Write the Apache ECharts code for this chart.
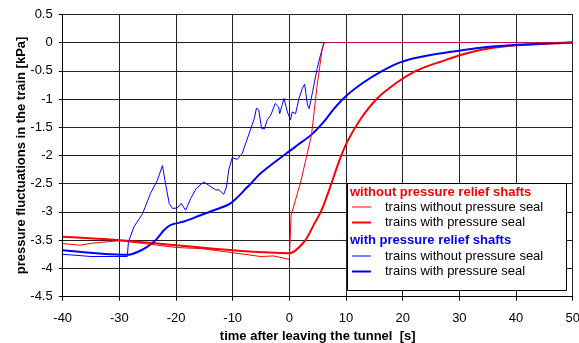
<!DOCTYPE html>
<html><head><meta charset="utf-8">
<script src="https://cdn.jsdelivr.net/npm/echarts@6/dist/echarts.min.js"></script>
<style>html,body{margin:0;padding:0;background:#fff}#c{width:579px;height:343px}</style>
</head><body><div id="c"></div>
<script>
// x ticks / y ticks
var xMin = -40, xMax = 50, xStep = 10;
var yMin = -4.5, yMax = 0.5, yStep = 0.5;

// without pressure relief shafts, trains without pressure seal (thin red)
var redThinT = [-40,-37,-34.5,-30,-25.7,-20,-15.6,-10.9,-5.1,-2.8,0,0.3,2.0,3.9,4.9,5.8,6.2,50];
var redThinP = [-3.56,-3.59,-3.55,-3.51,-3.56,-3.63,-3.65,-3.71,-3.79,-3.78,-3.84,-3.06,-2.47,-1.64,-0.76,-0.11,0,0];

// without pressure relief shafts, trains with pressure seal (thick red)
var redThickT = [-40,-30,0,2.6,4.3,5.8,7.3,8.75,10.2,12.6,15.5,19.1,22,24.9,26.7,30.2,34.9,40.2,45.5,50];
var redThickP = [-3.44,-3.50,-3.73,-3.53,-3.23,-2.94,-2.53,-2.11,-1.76,-1.35,-0.99,-0.70,-0.52,-0.40,-0.34,-0.22,-0.11,-0.05,-0.02,0];

// with pressure relief shafts, trains without pressure seal (thin blue)
var blueThinT = [-40,-35,-31,-28.6,-28.4,-27.4,-25.9,-24.5,-23.3,-22.4,-21.8,-21.2,-20.6,-19.8,-19.1,-18.3,-17.4,-16.4,-15.1,-14.2,-13,-12.4,-11.6,-11.1,-10.7,-10.1,-9.2,-8.3,-7.1,-6.2,-5.8,-5.4,-4.9,-4.4,-3.9,-3.3,-2.5,-1.9,-1.7,-0.95,-0.35,0.2,0.5,1.1,1.7,2.3,2.7,3.2,3.5,4.1,4.9,5.5,6.1,50];
var blueThinP = [-3.75,-3.79,-3.79,-3.79,-3.53,-3.26,-3.03,-2.67,-2.44,-2.18,-2.53,-2.85,-2.94,-2.93,-2.85,-2.97,-2.76,-2.58,-2.47,-2.53,-2.61,-2.61,-2.69,-2.56,-2.26,-2.04,-2.07,-1.96,-1.61,-1.35,-1.16,-1.20,-1.52,-1.53,-1.37,-1.29,-1.08,-1.14,-1.26,-0.99,-1.23,-1.37,-1.23,-1.26,-0.99,-0.81,-0.74,-1.11,-1.17,-0.87,-0.46,-0.22,0,0];

// with pressure relief shafts, trains with pressure seal (thick blue)
var blueThickT = [-40,-28.5,-26.8,-25.1,-23.6,-22.1,-20.9,-18.6,-15.7,-13.3,-10.4,-7.4,-5.1,-2.1,0.2,1.4,3.8,6.1,7.9,10.2,13.2,16.1,19.1,22,24.9,30.2,34.9,40.2,45,50];
var blueThickP = [-3.68,-3.76,-3.71,-3.62,-3.50,-3.32,-3.23,-3.17,-3.06,-2.97,-2.85,-2.56,-2.32,-2.08,-1.91,-1.82,-1.64,-1.40,-1.17,-0.93,-0.70,-0.52,-0.37,-0.28,-0.22,-0.14,-0.08,-0.04,-0.015,0];

var groupNames = ['without pressure relief shafts', 'with pressure relief shafts'];
var itemNames = ['trains without pressure seal', 'trains with pressure seal'];
var xTitle = 'time after leaving the tunnel  [s]';
var yTitle = 'pressure fluctuations in the train [kPa]';

function zip(t, p) { return t.map(function (v, i) { return [v, p[i]]; }); }

var FONT = '"Liberation Sans", Arial, sans-serif';
var RED = '#ff0000', BLUE = '#0000ff', MIX = '#c0104a';
var labelOf = { rThin: itemNames[0], rThick: itemNames[1], bThin: itemNames[0], bThick: itemNames[1] };
var THIN_ICON = 'path://M0,0h19v1h-19z';
var THICK_ICON = 'path://M0,0h19v2h-19z';

// thin red line turns into the overlap colour where it merges with the thin blue line at 0
var mergeT = redThinT[redThinT.length - 2];
var mergeFrac = (mergeT - xMin) / (xMax - xMin);
var redThinColor = new echarts.graphic.LinearGradient(0, 0, 1, 0, [
  { offset: 0, color: RED }, { offset: mergeFrac, color: RED },
  { offset: Math.min(1, mergeFrac + 0.001), color: MIX }, { offset: 1, color: MIX }
]);

function oneLegend(name, top, icon, color) {
  return {
    orient: 'vertical', left: 352, top: top, padding: 0,
    itemWidth: 19, itemHeight: 14, z: 20,
    data: [{ name: name, icon: icon, itemStyle: { color: color, borderWidth: 0 } }],
    formatter: function (n) { return labelOf[n]; },
    textStyle: { fontFamily: FONT, fontSize: 13, color: '#000', padding: [0, 0, 0, 9] },
    selectedMode: false
  };
}

var chart = echarts.init(document.getElementById('c'), null, { renderer: 'canvas' });
chart.setOption({
  animation: false,
  backgroundColor: '#fff',
  textStyle: { fontFamily: FONT },
  grid: { left: 62.7, right: 6.3, top: 14.3, bottom: 46.4, containLabel: false, outerBoundsMode: 'none' },
  xAxis: {
    type: 'value', min: xMin, max: xMax, interval: xStep,
    name: xTitle, nameLocation: 'middle', nameGap: 33, nameMoveOverlap: false,
    nameTextStyle: { fontFamily: FONT, fontSize: 13, fontWeight: 'bold', color: '#000' },
    axisLine: { onZero: false, lineStyle: { color: '#000', width: 1 } },
    axisTick: { show: true, length: 4, lineStyle: { color: '#000' } },
    axisLabel: { fontFamily: FONT, fontSize: 13, color: '#000', margin: 15 },
    splitLine: { show: true, lineStyle: { color: '#222', width: 1 } }
  },
  yAxis: {
    type: 'value', min: yMin, max: yMax, interval: yStep,
    name: yTitle, nameLocation: 'middle', nameGap: 35, nameRotate: 90, nameMoveOverlap: false,
    nameTextStyle: { fontFamily: FONT, fontSize: 13, fontWeight: 'bold', color: '#000' },
    axisLine: { show: true, onZero: false, lineStyle: { color: '#000', width: 1 } },
    axisTick: { show: true, length: 4, lineStyle: { color: '#000' } },
    axisLabel: { fontFamily: FONT, fontSize: 13, color: '#000', margin: 10 },
    splitLine: { show: true, lineStyle: { color: '#222', width: 1 } }
  },
  legend: [
    oneLegend('rThin', 200.5, THIN_ICON, RED),
    oneLegend('rThick', 216, THICK_ICON, RED),
    oneLegend('bThin', 249.5, THIN_ICON, BLUE),
    oneLegend('bThick', 265, THICK_ICON, BLUE)
  ],
  graphic: [
    { type: 'rect', z: 10, shape: { x: 347.5, y: 183.5, width: 219, height: 107 },
      style: { fill: '#fff', stroke: '#000', lineWidth: 1 } },
    { type: 'text', z: 11, x: 350, y: 192,
      style: { text: groupNames[0], fill: RED, font: 'bold 13px "Liberation Sans", Arial', verticalAlign: 'middle' } },
    { type: 'text', z: 11, x: 350, y: 240,
      style: { text: groupNames[1], fill: BLUE, font: 'bold 13px "Liberation Sans", Arial', verticalAlign: 'middle' } }
  ],
  series: [
    { name: 'rThick', type: 'line', data: zip(redThickT, redThickP), symbol: 'none', smooth: 0.3,
      lineStyle: { color: RED, width: 2 }, itemStyle: { color: RED }, z: 2 },
    { name: 'bThin', type: 'line', data: zip(blueThinT, blueThinP), symbol: 'none',
      lineStyle: { color: BLUE, width: 1 }, itemStyle: { color: BLUE }, z: 2 },
    { name: 'bThick', type: 'line', data: zip(blueThickT, blueThickP), symbol: 'none', smooth: 0.3,
      lineStyle: { color: BLUE, width: 2 }, itemStyle: { color: BLUE }, z: 2 },
    { name: 'rThin', type: 'line', data: zip(redThinT, redThinP), symbol: 'none',
      lineStyle: { color: redThinColor, width: 1 }, itemStyle: { color: RED }, z: 3 }
  ]
});
</script></body></html>
